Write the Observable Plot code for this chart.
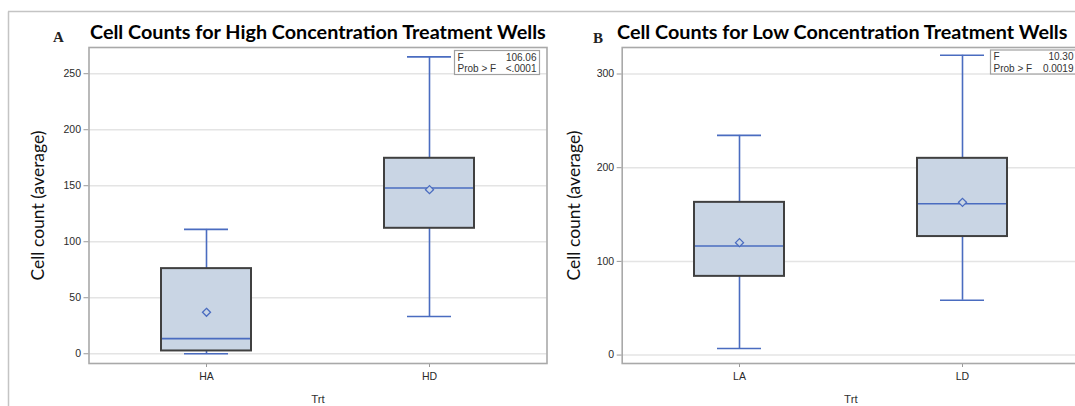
<!DOCTYPE html>
<html>
<head>
<meta charset="utf-8">
<script src="https://cdn.jsdelivr.net/npm/d3@7"></script>
<script src="https://cdn.jsdelivr.net/npm/@observablehq/plot@0.6"></script>
<style>
  html, body { margin: 0; padding: 0; background: #fff; overflow: hidden; width: 1075px; height: 406px; }
  #wrap { position: relative; width: 1075px; height: 406px; overflow: hidden; }
  .panel { position: absolute; top: 0; }
  .panel svg { max-width: none !important; display: block; }
  #overlay { position: absolute; left: 0; top: 0; pointer-events: none; }
</style>
</head>
<body>
<div id="wrap">
  <div id="panelA" class="panel" style="left:0px;width:560px"></div>
  <div id="panelB" class="panel" style="left:540px;width:545px"></div>
  <svg id="overlay" width="1075" height="406"></svg>
</div>
<script>
// ---------- data ----------
const groupsA = ["HA", "HD"];
const minA  = [0, 33.3];
const q1A   = [2.5, 112];
const medA  = [13.5, 148];
const q3A   = [76, 174.5];
const maxA  = [111, 265];
const meanA = [37, 146.5];
const ticksA = [0, 50, 100, 150, 200, 250];

const groupsB = ["LA", "LD"];
const minB  = [7, 58.5];
const q1B   = [84, 126.5];
const medB  = [116.5, 161.5];
const q3B   = [163, 210];
const maxB  = [234.5, 320];
const meanB = [120, 163];
const ticksB = [0, 100, 200, 300];

const titleA = "Cell Counts for High Concentration Treatment Wells";
const titleB = "Cell Counts for Low Concentration Treatment Wells";
const yLabel = "Cell count (average)";
const xLabel = "Trt";
const statsA = [["F", "106.06"], ["Prob > F", "<.0001"]];
const statsB = [["F", "10.30"], ["Prob > F", "0.0019"]];

// ---------- styles ----------
const blue = "#4a6cc0";
const boxFill = "#c9d5e4";
const boxStroke = "#404040";

function panel(groups, mn, q1, med, q3, mx, mean, ticks, cfg) {
  const rows = groups.map((g, i) => ({g, min: mn[i], q1: q1[i], med: med[i], q3: q3[i], max: mx[i], mean: mean[i]}));
  return Plot.plot({
    width: cfg.width, height: 406,
    marginLeft: cfg.marginLeft, marginRight: cfg.marginRight, marginTop: 47, marginBottom: 43,
    x: {type: "band", domain: groups, paddingInner: 0.597, paddingOuter: 0.323, label: null},
    y: {domain: cfg.domain, label: null},
    style: {fontFamily: "'Liberation Sans', Arial, sans-serif", fontSize: "10.5px", color: "#333", background: "transparent", overflow: "visible"},
    marks: [
      Plot.gridY({ticks, stroke: "#e4e4e4", strokeOpacity: 1, strokeWidth: 1.5}),
      Plot.axisY({ticks, tickSize: 5, tickPadding: 3, label: null, stroke: "#999", fill: "#2a2a2a"}),
      Plot.axisX({tickSize: 4, tickPadding: 5, label: null, stroke: "#999", fill: "#2a2a2a"}),
      Plot.ruleX(rows, {x: "g", y1: "min", y2: "max", stroke: blue, strokeWidth: 1.6}),
      Plot.barY(rows, {x: "g", y1: "q1", y2: "q3", fill: boxFill, stroke: boxStroke, strokeWidth: 2}),
      Plot.tickY(rows, {x: "g", y: "med", stroke: blue, strokeWidth: 1.6, insetLeft: 1, insetRight: 1}),
      Plot.tickY(rows, {x: "g", y: "min", stroke: blue, strokeWidth: 1.6, insetLeft: 23, insetRight: 23}),
      Plot.tickY(rows, {x: "g", y: "max", stroke: blue, strokeWidth: 1.6, insetLeft: 23, insetRight: 23}),
      Plot.dot(rows, {x: "g", y: "mean", symbol: "diamond2", r: 3.6, stroke: blue, strokeWidth: 1.3, fill: boxFill}),
      Plot.frame({stroke: "#a9a9a9", strokeWidth: 1.6}),
      Plot.text([yLabel], {frameAnchor: "left", dx: cfg.labelDx, rotate: -90, fontSize: 17.5, fontFamily: "Lato, 'Open Sans', sans-serif", fill: "#111", textAnchor: "middle", lineAnchor: "middle"}),
      Plot.text([xLabel], {frameAnchor: "bottom", dy: 36, fontSize: 11.5, fill: "#333", lineAnchor: "middle"})
    ]
  });
}

document.getElementById("panelA").append(
  panel(groupsA, minA, q1A, medA, q3A, maxA, meanA, ticksA,
        {width: 560, marginLeft: 88.5, marginRight: 13.5, domain: [-8.7, 273.4], labelDx: -50.5}));
document.getElementById("panelB").append(
  panel(groupsB, minB, q1B, medB, q3B, maxB, meanB, ticksB,
        {width: 545, marginLeft: 81.7, marginRight: 6, domain: [-9.0, 328.3], labelDx: -47.5}));

// ---------- overlay: borders, titles, stats boxes ----------
const ov = d3.select("#overlay");
ov.append("line").attr("x1", 8).attr("x2", 1075).attr("y1", 11.5).attr("y2", 11.5).attr("stroke", "#c4c4c4").attr("stroke-width", 1.5);
ov.append("line").attr("x1", 8.5).attr("x2", 8.5).attr("y1", 11.5).attr("y2", 406).attr("stroke", "#c4c4c4").attr("stroke-width", 1.5);

function title(letter, lx, ly, text, tx, ty) {
  ov.append("text").attr("x", lx).attr("y", ly).text(letter)
    .attr("font-family", "'Liberation Serif', 'DejaVu Serif', serif").attr("font-weight", "bold").attr("font-size", 15).attr("fill", "#222");
  ov.append("text").attr("x", tx).attr("y", ty).text(text)
    .attr("font-family", "Lato, 'Open Sans', sans-serif").attr("font-weight", "bold").attr("font-size", 19.8).attr("fill", "#000");
}
title("A", 53, 42, titleA, 90, 38.5);
title("B", 593, 42.5, titleB, 617, 38.5);

function stats(rows, x, y, w) {
  const g = ov.append("g");
  g.append("rect").attr("x", x).attr("y", y).attr("width", w).attr("height", 24)
    .attr("fill", "#fff").attr("stroke", "#a0a0a0").attr("stroke-width", 1.2);
  rows.forEach((r, i) => {
    const by = y + 10 + i * 11.5;
    g.append("text").attr("x", x + 3).attr("y", by).text(r[0])
      .attr("font-family", "'Liberation Sans', Arial, sans-serif").attr("font-size", 10).attr("fill", "#333");
    g.append("text").attr("x", x + w - 3).attr("y", by).text(r[1]).attr("text-anchor", "end")
      .attr("font-family", "'Liberation Sans', Arial, sans-serif").attr("font-size", 10).attr("fill", "#333");
  });
}
stats(statsA, 454.5, 50.5, 85);
stats(statsB, 990.5, 50, 86);
</script>
</body>
</html>
